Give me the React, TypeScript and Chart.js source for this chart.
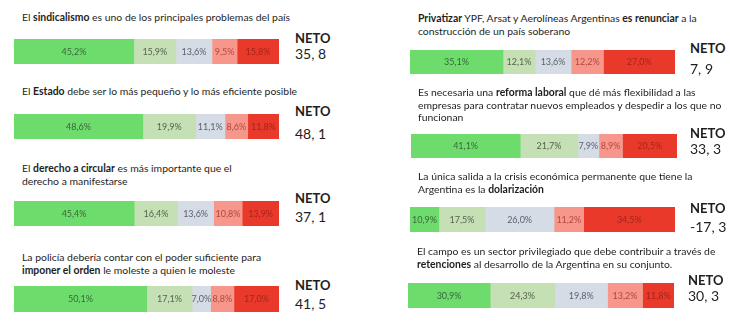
import React, { useEffect, useRef } from "react";
import { Chart, registerables } from "chart.js";

Chart.register(...registerables);

// ---------- DATA ----------
const statements = [
  "El **sindicalismo** es uno de los principales problemas del país",
  "El **Estado** debe ser lo más pequeño y lo más eficiente posible",
  "El **derecho a circular** es más importante que el\nderecho a manifestarse",
  "La policía debería contar con el poder suficiente para\n**imponer el orden** le moleste a quien le moleste",
  "**Privatizar** YPF, Arsat y Aerolíneas Argentinas **es renunciar** a la\nconstrucción de un país soberano",
  "Es necesaria una **reforma laboral** que dé más flexibilidad a las\nempresas para contratar nuevos empleados y despedir a los que no\nfuncionan",
  "La única salida a la crisis económica permanente que tiene la\nArgentina es la **dolarización**",
  "El campo es un sector privilegiado que debe contribuir a través de\n**retenciones** al desarrollo de la Argentina en su conjunto.",
];

const seriesNames = ["Muy de acuerdo", "De acuerdo", "Ns/Nc", "En desacuerdo", "Muy en desacuerdo"];
const muyDeAcuerdo = [45.2, 48.6, 45.4, 50.1, 35.1, 41.1, 10.9, 30.9];
const deAcuerdo = [15.9, 19.9, 16.4, 17.1, 12.1, 21.7, 17.5, 24.3];
const nsNc = [13.6, 11.1, 13.6, 7.0, 13.6, 7.9, 26.0, 19.8];
const enDesacuerdo = [9.5, 8.6, 10.8, 8.8, 12.2, 8.9, 11.2, 13.2];
const muyEnDesacuerdo = [15.8, 11.8, 13.9, 17.0, 27.0, 20.5, 34.5, 11.8];
const netoLabels = ["35, 8", "48, 1", "37, 1", "41, 5", "7, 9", "33, 3", "-17, 3", "30, 3"];

// ---------- STYLE / LAYOUT ----------
const FONT = "Lato, 'Open Sans', sans-serif";
const barColors = ["#6ddc6d", "#c5e0b4", "#d6dce5", "#f7968a", "#e9392b"];
const labelColors = ["#3b663b", "#56624f", "#5b6270", "#b2483e", "#a3261c"];

// panel layout: text position, bar box, NETO position
const layout = [
  { tx: 22, ty: 11, bx: 14, by: 39, bw: 265, bh: 25, nx: 295, ny: 32, vy: 47 },
  { tx: 22, ty: 85, bx: 14, by: 114, bw: 265, bh: 25, nx: 295, ny: 105, vy: 127 },
  { tx: 22, ty: 162, bx: 14, by: 201, bw: 265, bh: 25, nx: 295, ny: 192, vy: 210 },
  { tx: 22, ty: 251, bx: 14, by: 286, bw: 265, bh: 26, nx: 295, ny: 279, vy: 297 },
  { tx: 418, ty: 12, bx: 410, by: 50, bw: 265, bh: 24, nx: 690, ny: 42, vy: 62 },
  { tx: 418, ty: 86, bx: 411, by: 134, bw: 266, bh: 24, nx: 690, ny: 127, vy: 142 },
  { tx: 418, ty: 170, bx: 410, by: 207, bw: 265, bh: 25, nx: 690, ny: 202, vy: 220 },
  { tx: 417, ty: 245, bx: 408, by: 283, bw: 266, bh: 25, nx: 688, ny: 274, vy: 289 },
];

const allSeries = [muyDeAcuerdo, deAcuerdo, nsNc, enDesacuerdo, muyEnDesacuerdo];

const fmt = (v: number) => v.toFixed(1).replace(".", ",") + "%";

const valueLabelPlugin = {
  id: "valueLabels",
  afterDatasetsDraw(chart: any) {
    const ctx = chart.ctx;
    ctx.save();
    ctx.font = `9px ${FONT}`;
    ctx.textAlign = "center";
    ctx.textBaseline = "middle";
    chart.data.datasets.forEach((ds: any, i: number) => {
      const meta = chart.getDatasetMeta(i);
      meta.data.forEach((el: any, j: number) => {
        const v = ds.data[j];
        const cx = (el.x + el.base) / 2;
        ctx.fillStyle = labelColors[i];
        ctx.fillText(fmt(v), cx, el.y + 0.5);
      });
    });
    ctx.restore();
  },
};

function StackBar({ idx }: { idx: number }) {
  const ref = useRef<HTMLCanvasElement>(null);
  const L = layout[idx];
  useEffect(() => {
    if (!ref.current) return;
    const total = allSeries.reduce((s, a) => s + a[idx], 0);
    const chart = new Chart(ref.current, {
      type: "bar",
      data: {
        labels: [statements[idx].replace(/\*\*/g, "").replace(/\n/g, " ")],
        datasets: allSeries.map((arr, k) => ({
          label: seriesNames[k],
          data: [arr[idx]],
          backgroundColor: barColors[k],
          borderWidth: 0,
          barPercentage: 1,
          categoryPercentage: 1,
        })),
      },
      options: {
        indexAxis: "y",
        responsive: false,
        maintainAspectRatio: false,
        animation: false,
        layout: { padding: 0 },
        plugins: { legend: { display: false }, tooltip: { enabled: false } },
        scales: {
          x: { stacked: true, display: false, min: 0, max: total },
          y: { stacked: true, display: false },
        },
      },
      plugins: [valueLabelPlugin],
    } as any);
    return () => chart.destroy();
  }, [idx]);
  return (
    <canvas
      ref={ref}
      width={L.bw}
      height={L.bh}
      style={{ position: "absolute", left: L.bx, top: L.by, width: L.bw, height: L.bh }}
    />
  );
}

function Statement({ text }: { text: string }) {
  const lines = text.split("\n");
  return (
    <>
      {lines.map((line, li) => (
        <div key={li} style={{ whiteSpace: "nowrap" }}>
          {line.split("**").map((part, pi) =>
            pi % 2 === 1 ? <b key={pi}>{part}</b> : <span key={pi}>{part}</span>
          )}
        </div>
      ))}
    </>
  );
}

export default function App() {
  return (
    <div
      style={{
        position: "absolute",
        left: 0,
        top: 0,
        width: 730,
        height: 326,
        background: "#ffffff",
        fontFamily: FONT,
        color: "#1e1e1e",
        overflow: "hidden",
      }}
    >
      {statements.map((s, i) => {
        const L = layout[i];
        return (
          <React.Fragment key={i}>
            <div style={{ position: "absolute", left: L.tx, top: L.ty, fontSize: 10.4, lineHeight: "12.5px" }}>
              <Statement text={s} />
            </div>
            <StackBar idx={i} />
            <div style={{ position: "absolute", left: L.nx, top: L.ny, fontSize: 13, lineHeight: "13px", fontWeight: 700 }}>
              NETO
            </div>
            <div style={{ position: "absolute", left: L.nx, top: L.vy, fontSize: 14, lineHeight: "14px" }}>
              {netoLabels[i]}
            </div>
          </React.Fragment>
        );
      })}
    </div>
  );
}
